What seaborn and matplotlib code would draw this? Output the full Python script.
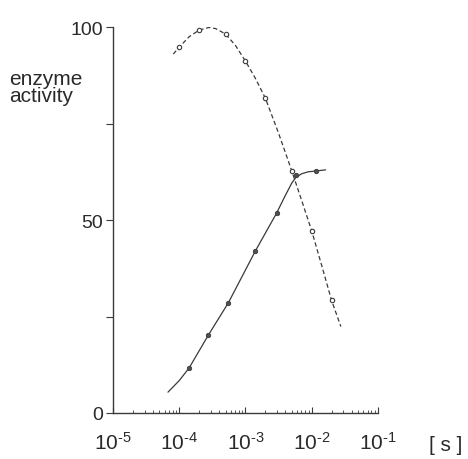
import numpy as np
import pandas as pd
import matplotlib
matplotlib.use("Agg")
import matplotlib.pyplot as plt
import matplotlib.ticker as mticker
import seaborn as sns

# messpunkte (log10 der zeit in s, aktivitaet)
open_logt = [-4.0, -3.70, -3.30, -3.0, -2.70, -2.30, -2.0, -1.70]
open_act = [94.8, 99.2, 98.2, 91.2, 81.6, 62.7, 47.2, 29.2]

filled_logt = [-3.85, -3.56, -3.26, -2.85, -2.53, -2.24, -1.94]
filled_act = [11.7, 20.2, 28.5, 42.0, 51.8, 61.6, 62.7]

# kurvenverlauf
dash_logt = [-4.09, -4.0, -3.85, -3.70, -3.55, -3.45, -3.30, -3.15, -3.0, -2.85,
             -2.70, -2.50, -2.30, -2.15, -2.0, -1.85, -1.70, -1.56]
dash_act = [93.0, 94.8, 97.5, 99.2, 99.9, 99.6, 98.2, 95.2, 91.2, 86.7,
            81.6, 72.5, 62.7, 55.0, 47.2, 38.3, 29.2, 22.4]

solid_logt = [-4.17, -4.0, -3.85, -3.56, -3.26, -2.85, -2.53, -2.40, -2.30,
              -2.24, -2.15, -2.05, -1.94, -1.79]
solid_act = [5.4, 8.4, 11.7, 20.2, 28.5, 42.0, 51.8, 56.3, 59.6,
             61.0, 62.0, 62.5, 62.7, 63.0]

y_ticks = [0, 25, 50, 75, 100]
y_ticklabels = ["0", "", "50", "", "100"]
x_ticks = [1e-5, 1e-4, 1e-3, 1e-2, 1e-1]
x_exps = [-5, -4, -3, -2, -1]

sns.set_style("ticks")
plt.rcParams["font.family"] = ["Liberation Sans", "DejaVu Sans"]
plt.rcParams["mathtext.fontset"] = "custom"
plt.rcParams["mathtext.rm"] = "Liberation Sans"
plt.rcParams["mathtext.it"] = "Liberation Sans"
plt.rcParams["text.color"] = "#2a2a2a"
plt.rcParams["xtick.labelcolor"] = "#2a2a2a"
plt.rcParams["ytick.labelcolor"] = "#2a2a2a"

dash = pd.DataFrame({"t": 10 ** np.array(dash_logt), "a": dash_act})
solid = pd.DataFrame({"t": 10 ** np.array(solid_logt), "a": solid_act})
opn = pd.DataFrame({"t": 10 ** np.array(open_logt), "a": open_act})
fil = pd.DataFrame({"t": 10 ** np.array(filled_logt), "a": filled_act})

fig = plt.figure(figsize=(4.68, 4.60), dpi=100)
ax = fig.add_axes([0.2415, 0.10, 0.566, 0.839])

col = "#3a3a3a"
sns.lineplot(data=dash, x="t", y="a", ax=ax, color=col, lw=0.9,
             linestyle=(0, (3.5, 2.2)), sort=False)
sns.lineplot(data=solid, x="t", y="a", ax=ax, color=col, lw=0.9, sort=False)
sns.scatterplot(data=opn, x="t", y="a", ax=ax, s=10, facecolor="white",
                edgecolor=col, linewidth=0.8, zorder=3)
sns.scatterplot(data=fil, x="t", y="a", ax=ax, s=10, color="#505050",
                edgecolor=col, linewidth=0.6, zorder=3)

ax.set_xscale("log")
ax.set_xlim(1e-5, 1e-1)
ax.set_ylim(0, 100)
ax.set_xticks(x_ticks)
ax.set_xticklabels([r"10$^{\text{%d}}$" % e for e in x_exps], fontsize=15)
ax.xaxis.set_minor_locator(mticker.LogLocator(base=10, subs=np.arange(2, 10)))
ax.xaxis.set_minor_formatter(mticker.NullFormatter())
ax.set_yticks(y_ticks)
ax.set_yticklabels(y_ticklabels, fontsize=14)

ax.tick_params(axis="x", which="major", direction="in", length=4, width=0.8,
               color=col, pad=13)
ax.tick_params(axis="x", which="minor", direction="in", length=2.5, width=0.6,
               color=col)
ax.tick_params(axis="y", direction="out", length=5, width=0.8, color=col, pad=2)

for s in ["top", "right"]:
    ax.spines[s].set_visible(False)
for s in ["left", "bottom"]:
    ax.spines[s].set_color(col)
    ax.spines[s].set_linewidth(1.0)

ax.set_xlabel("")
ax.set_ylabel("")
fig.text(9 / 468, 1 - 88 / 460, "enzyme\nactivity", fontsize=15,
         ha="left", va="center", linespacing=0.9)
fig.text(429 / 468, 1 - 446 / 460, "[ s ]", fontsize=15, ha="left", va="center")

fig.savefig("out.png", dpi=100, facecolor="white")
